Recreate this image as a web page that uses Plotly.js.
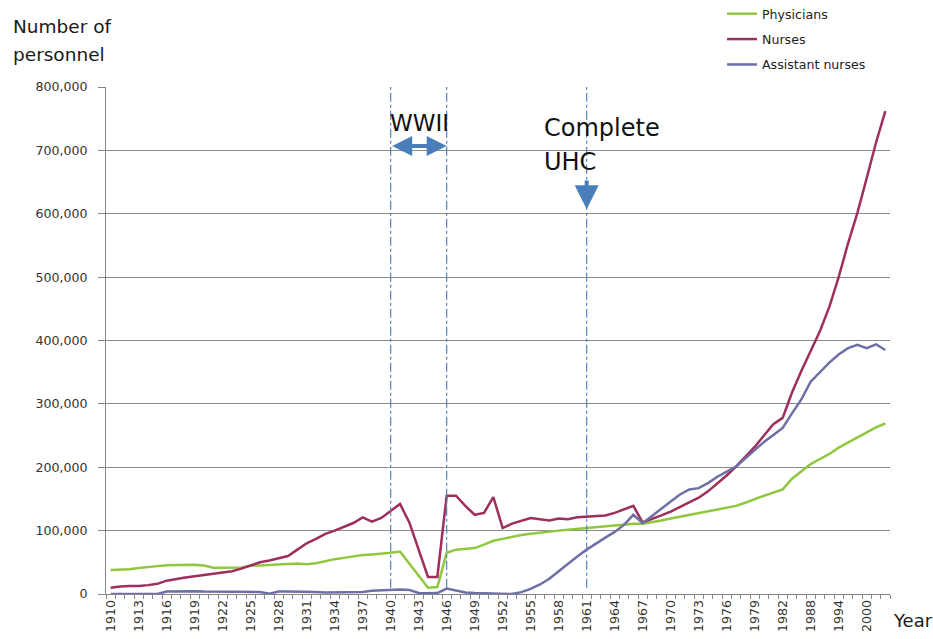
<!DOCTYPE html>
<html>
<head>
<meta charset="utf-8">
<script src="https://cdn.plot.ly/plotly-3.0.1.min.js"></script>
<style>html,body{margin:0;padding:0;background:#fff;}#chart{width:933px;height:639px;}</style>
</head>
<body>
<div id="chart"></div>
<script>
// Categories (annual to 1982, then every two years)
const years = ['1910','1911','1912','1913','1914','1915','1916','1917','1918','1919',
  '1920','1921','1922','1923','1924','1925','1926','1927','1928','1929',
  '1930','1931','1932','1933','1934','1935','1936','1937','1938','1939',
  '1940','1941','1942','1943','1944','1945','1946','1947','1948','1949',
  '1950','1951','1952','1953','1954','1955','1956','1957','1958','1959',
  '1960','1961','1962','1963','1964','1965','1966','1967','1968','1969',
  '1970','1971','1972','1973','1974','1975','1976','1977','1978','1979',
  '1980','1981','1982','1984','1986','1988','1990','1992','1994','1996',
  '1998','2000','2002','2004'];

const physicians = [38000,38000,39000,41000,42000,44000,45500,46000,46000,46000,
  45000,41500,41500,41500,42000,44500,45500,46500,47000,47500,
  48000,47000,48500,52000,55000,57000,59500,61500,62500,63500,
  65000,67000,48000,29000,10000,11000,65000,70000,71500,72500,
  78000,84000,87000,90500,93000,95000,97000,98500,100000,101500,
  103000,104000,105000,107000,108500,110000,111000,111000,113000,116000,
  119000,122000,124000,127000,130000,133000,136000,139000,144000,150000,
  155000,160000,165000,182000,194000,205000,213000,221000,231000,239000,
  247000,255000,263000,269000];

const nurses = [10000,12000,12500,12500,14000,16000,21000,24000,26000,28000,
  30000,31000,34000,36000,40000,45000,50000,53000,57000,60000,
  70000,80000,87000,95000,100000,106000,112000,121000,114000,120000,
  131000,142000,113000,70000,27000,27000,155000,155000,139000,125000,
  128000,153000,104000,111000,115000,120000,118000,116000,119000,118000,
  121000,122000,122000,124000,128000,133000,139000,113000,118000,124000,
  130000,137000,144000,152000,162000,174000,187000,201000,216000,232000,
  250000,268000,278000,318000,352000,383000,415000,453000,500000,553000,
  601000,656000,712000,762000];

const assistantNurses = [0,0,0,0,0,0,4000,4500,4500,4500,
  4000,3500,3500,3500,3500,3500,3000,500,4000,4000,
  4000,4000,3000,2500,2500,2500,2500,3000,5000,6000,
  7000,7000,6500,1500,1000,1500,8500,6000,2500,1500,
  1000,500,500,0,3000,8000,15000,24000,36000,48000,
  59000,70000,80000,89000,98000,109000,125000,112000,123000,135000,
  146000,157000,165000,167000,175000,185000,193000,201000,214000,227000,
  240000,251000,262000,285000,307000,335000,350000,365000,378000,388000,
  393000,388000,394000,385000];

const tickLabels = ['1910','1913','1916','1919','1922','1925','1928','1931','1934','1937',
  '1940','1943','1946','1949','1952','1955','1958','1961','1964','1967',
  '1970','1973','1976','1979','1982','1988','1994','2000'];

const eventYears = ['1940','1946','1961'];
const warStart = '1940', warEnd = '1946', uhcYear = '1961';

const seriesNames = ['Physicians','Nurses','Assistant nurses'];
const seriesColors = ['#8fc73e','#9e2f5c','#6d6fa5'];

const xIdx = years.map((_, i) => i);
const idx = y => years.indexOf(y);

const W = 933, H = 639;
const M = {l: 106, r: 43, t: 87, b: 45, autoexpand: false};
const pw = W - M.l - M.r, ph = H - M.t - M.b;
const px = p => (p - M.l) / pw;
const py = p => (H - M.b - p) / ph;

const FONT = 'DejaVu Sans, Liberation Sans, sans-serif';

const seriesData = [physicians, nurses, assistantNurses];
const traces = seriesData.map((vals, k) => ({
  type: 'scatter', mode: 'lines',
  x: xIdx, y: vals,
  name: seriesNames[k],
  legendgroup: 'g' + k,
  line: {color: seriesColors[k], width: 2.5},
  hoverinfo: 'skip'
}));

const shapes = eventYears.map(y => ({
  type: 'line', xref: 'x', yref: 'y',
  x0: idx(y), x1: idx(y), y0: 10000, y1: 800000,
  line: {color: '#5b83b9', width: 1.2, dash: 'dashdot'}
}));

const annotations = [
  {xref: 'paper', yref: 'paper', x: px(11), y: py(26), xanchor: 'left', yanchor: 'middle',
   text: 'Number of', showarrow: false, font: {family: FONT, size: 18.5, color: '#1a1a1a'}},
  {xref: 'paper', yref: 'paper', x: px(11), y: py(55), xanchor: 'left', yanchor: 'middle',
   text: 'personnel', showarrow: false, font: {family: FONT, size: 18.5, color: '#1a1a1a'}},
  {xref: 'paper', yref: 'paper', x: px(891), y: py(620), xanchor: 'left', yanchor: 'middle',
   text: 'Year', showarrow: false, font: {family: FONT, size: 18, color: '#1a1a1a'}},
  {xref: 'paper', yref: 'paper', x: px(419), y: py(123), xanchor: 'center', yanchor: 'middle',
   text: 'WWII', showarrow: false, font: {family: FONT, size: 23, color: '#111'}},
  {xref: 'paper', yref: 'paper', x: px(542), y: py(128), xanchor: 'left', yanchor: 'middle',
   text: 'Complete', showarrow: false, font: {family: FONT, size: 24, color: '#111'}},
  {xref: 'paper', yref: 'paper', x: px(542), y: py(162), xanchor: 'left', yanchor: 'middle',
   text: 'UHC', showarrow: false, font: {family: FONT, size: 24, color: '#111'}},
  {xref: 'x', yref: 'y', x: idx(warEnd), y: 707000, axref: 'x', ayref: 'y',
   ax: idx(warStart), ay: 707000, text: '', showarrow: true, arrowside: 'end+start',
   arrowhead: 2, arrowsize: 1.0, arrowwidth: 4, arrowcolor: '#4a7ebb', standoff: 0, startstandoff: 0},
  {xref: 'x', yref: 'y', x: idx(uhcYear), y: 607000, axref: 'x', ayref: 'y',
   ax: idx(uhcYear), ay: 655000, text: '', showarrow: true,
   arrowhead: 2, arrowsize: 1.2, arrowwidth: 4, arrowcolor: '#4a7ebb', standoff: 0}
];

const layout = {
  width: W, height: H,
  margin: M,
  paper_bgcolor: '#fff', plot_bgcolor: '#fff',
  font: {family: FONT, size: 12.6, color: '#333'},
  showlegend: true,
  legend: {
    x: px(722), y: py(-1), xanchor: 'left', yanchor: 'top',
    font: {family: FONT, size: 12.6, color: '#222'},
    bgcolor: 'rgba(0,0,0,0)', traceorder: 'grouped', tracegroupgap: 6
  },
  xaxis: {
    range: [-0.5, years.length - 0.5],
    tickmode: 'array',
    tickvals: tickLabels.map(idx),
    ticktext: tickLabels,
    tickangle: -90,
    ticks: '',
    tickfont: {family: FONT, size: 12.6, color: '#333'},
    showgrid: false, zeroline: false,
    showline: true, linecolor: '#868686', linewidth: 1,
    minor: {tickmode: 'linear', tick0: -0.5, dtick: 1, ticks: 'outside', ticklen: 4,
            tickcolor: '#868686', tickwidth: 1, showgrid: false},
    fixedrange: true
  },
  yaxis: {
    range: [0, 800000],
    tickmode: 'linear', tick0: 0, dtick: 100000,
    tickformat: ',d',
    ticks: 'outside', ticklen: 7, tickcolor: '#868686',
    tickfont: {family: FONT, size: 12.6, color: '#333'},
    ticklabelstandoff: 8,
    showgrid: true, gridcolor: '#8a8a8a', gridwidth: 1,
    zeroline: false,
    showline: true, linecolor: '#868686', linewidth: 1,
    fixedrange: true
  },
  shapes: shapes,
  annotations: annotations
};

Plotly.newPlot('chart', traces, layout, {staticPlot: true, displayModeBar: false});
</script>
</body>
</html>
